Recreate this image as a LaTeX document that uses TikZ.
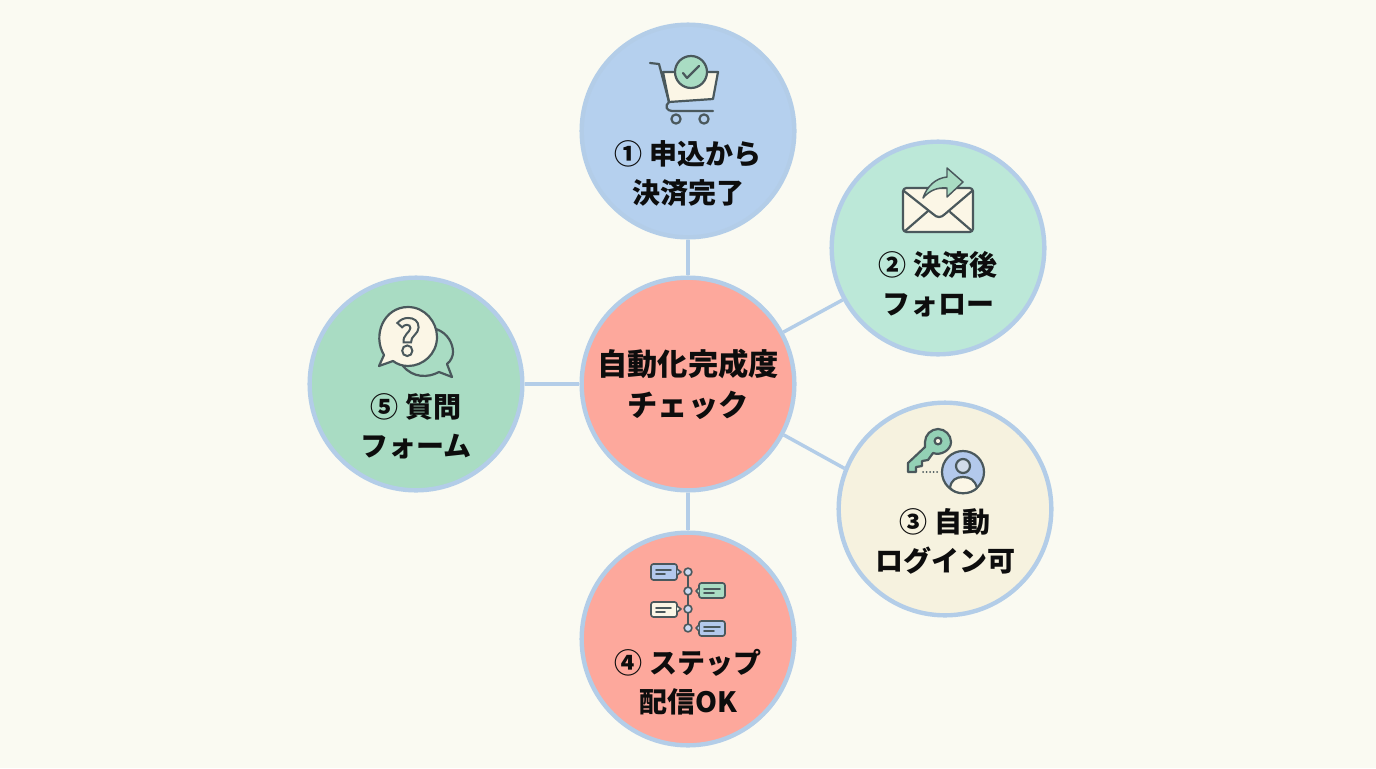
\documentclass[tikz,border=0pt]{standalone}
\usepackage{fontspec}
\setmainfont{Noto Sans CJK JP}
\usetikzlibrary{backgrounds}
\definecolor{bgc}{HTML}{FAFAF2}
\definecolor{ringc}{HTML}{B3CDE8}
\definecolor{blue1}{HTML}{B5D0EE}
\definecolor{mint}{HTML}{BCE8D8}
\definecolor{cream}{HTML}{F6F2DF}
\definecolor{salmon}{HTML}{FDA89C}
\definecolor{green5}{HTML}{A9DCC3}
\definecolor{ink}{HTML}{4A585C}
\definecolor{paper}{HTML}{FBF6E6}
\definecolor{keyg}{HTML}{93D1B5}
\definecolor{bblue}{HTML}{B3C9EC}
\tikzset{
  hub/.style={circle,draw=ringc,line width=3.3pt,minimum size=159.5pt,inner sep=0pt},
  lbl/.style={align=center,inner sep=0pt,font=\fontsize{21}{29.25}\selectfont\bfseries,text=black!95},
  link/.style={draw=ringc,line width=2.6pt},
  icon/.style={draw=ink,line width=1.65pt,line join=round,line cap=round},
  thin/.style={draw=ink,line width=1.2pt,line cap=round}
}
\begin{document}
\begin{tikzpicture}[x=0.75pt,y=-0.75pt]
\useasboundingbox (0,0) rectangle (1376,768);
\node[hub,fill=salmon] (c) at (688,384) {};
\node[hub,fill=blue1] (n1) at (688,131) {};
\node[hub,fill=mint] (n2) at (938,248) {};
\node[hub,fill=cream] (n3) at (945,509) {};
\node[hub,fill=salmon] (n4) at (688,639) {};
\node[hub,fill=green5] (n5) at (416,384) {};
\begin{scope}[on background layer]
\fill[bgc] (0,0) rectangle (1376,768);
\draw[link] (c) -- (n1);
\draw[link] (c) -- (n2);
\draw[link] (c.-28) -- (n3.158);
\draw[link] (c) -- (n4);
\draw[link] (c) -- (n5);
\end{scope}
\node[lbl,font=\fontsize{22.7}{30.75}\selectfont\bfseries] (tc) at (688,384.5) {自動化完成度\\チェック};
\node[lbl] (t1) at (688,173.5) {① 申込から\\決済完了};
\node[lbl] (t2) at (938,284) {② 決済後\\フォロー};
\node[lbl] (t3) at (945,541) {③ 自動\\ログイン可};
\node[lbl] (t4) at (688,682.5) {④ ステップ\\配信OK};
\node[lbl] (t5) at (416,426.5) {⑤ 質問\\フォーム};
% cart
\draw[icon,fill=paper] (663,72) -- (718,72) -- (713,99) -- (669,102) -- cycle;
\draw[icon] (650,63) -- (659,64) -- (669,102) .. controls (664,106) and (667,111) .. (672,111) -- (713,111);
\draw[icon,fill=blue1] (676,119) circle (4.6);
\draw[icon,fill=blue1] (704,119) circle (4.6);
\draw[icon,fill=green5] (691,72) circle (16);
\draw[icon] (683,73) -- (687,78) -- (699,66);
% envelope
\draw[icon,fill=paper,rounded corners=2.5] (903,188) rectangle (973,232);
\draw[icon] (904,191) -- (933,214) .. controls (937,218) and (941,218) .. (945,214) -- (972,191);
\draw[icon] (905,231) -- (928,211);
\draw[icon] (972,231) -- (950,212);
\draw[icon,fill=green5,line width=1.1pt] (923,198) .. controls (927,186) and (936,178) .. (947,177) -- (947,168) -- (963,182) -- (947,197) -- (947,188) .. controls (937,187) and (929,191) .. (923,198) -- cycle;
% key and user
\draw[icon,fill=keyg] (925,447) -- (908,463) -- (908,472) -- (916,472) -- (916,467) -- (922,466) -- (922,461) -- (928,460) -- (933,453) .. controls (941,456) and (951,450) .. (951,442) .. controls (951,435) and (945,429) .. (938,429) .. controls (931,429) and (925,435) .. (925,442) -- cycle;
\draw[icon,fill=paper] (938,441) circle (3.4);
\foreach \dx in {923,926.5,930,933.5,937} \fill[ink] (\dx,472) circle (1);
\draw[icon,fill=bblue] (963,472) circle (21);
\draw[icon,fill=paper] (950,488) .. controls (951,480) and (956,477) .. (963,477) .. controls (970,477) and (975,480) .. (977,488) .. controls (970,495) and (956,495) .. (950,488) -- cycle;
\draw[icon,fill=bblue!60!paper] (963,466) circle (7);
% timeline
\draw[icon,line width=1.3pt] (688,572) -- (688,628);
\foreach \yy in {572,591,609,628} \draw[icon,line width=1.2pt,fill=bblue!70!white] (688,\yy) circle (3.9);
\draw[icon,line width=1.25pt,fill=bblue,rounded corners=1.8] (651,564) rectangle (677,580);
\draw[icon,line width=1.25pt,fill=bblue] (677,569) -- (681,572) -- (677,575);
\draw[thin] (656,570) -- (671,570); \draw[thin] (656,574) -- (665,574);
\draw[icon,line width=1.25pt,fill=green5,rounded corners=1.8] (699,583) rectangle (725,598);
\draw[icon,line width=1.25pt,fill=green5] (699,588) -- (696,591) -- (699,594);
\draw[thin] (704,589) -- (720,589); \draw[thin] (704,593) -- (714,593);
\draw[icon,line width=1.25pt,fill=paper,rounded corners=1.8] (651,602) rectangle (677,617);
\draw[icon,line width=1.25pt,fill=paper] (677,606) -- (681,609) -- (677,612);
\draw[thin] (656,608) -- (671,608); \draw[thin] (656,612) -- (665,612);
\draw[icon,line width=1.25pt,fill=bblue,rounded corners=1.8] (699,621) rectangle (725,636);
\draw[icon,line width=1.25pt,fill=bblue] (699,625) -- (696,628) -- (699,631);
\draw[thin] (704,627) -- (720,627); \draw[thin] (704,631) -- (714,631);
% speech bubbles
\draw[icon,fill=green5] (436,329) .. controls (448,333) and (453,344) .. (453,352) .. controls (453,356) and (451,361) .. (447,364) -- (452,377) -- (439,372) .. controls (428,378) and (413,378) .. (403,366) -- cycle;
\draw[icon,fill=paper] (384,355) .. controls (372,335) and (384,307) .. (408,307) .. controls (425,307) and (437,322) .. (437,337) .. controls (437,354) and (423,366) .. (408,366) .. controls (402,366) and (397,364) .. (393,361) -- (379,366) -- cycle;
\node[inner sep=0pt,text=ink,font=\fontsize{36}{36}\selectfont\bfseries] (qm) at (408,337) {\special{pdf:code 2 Tr 1.5 w 0.29 0.345 0.36 RG 0.98 0.96 0.9 rg}?\special{pdf:code 0 Tr}};
\end{tikzpicture}
\end{document}
